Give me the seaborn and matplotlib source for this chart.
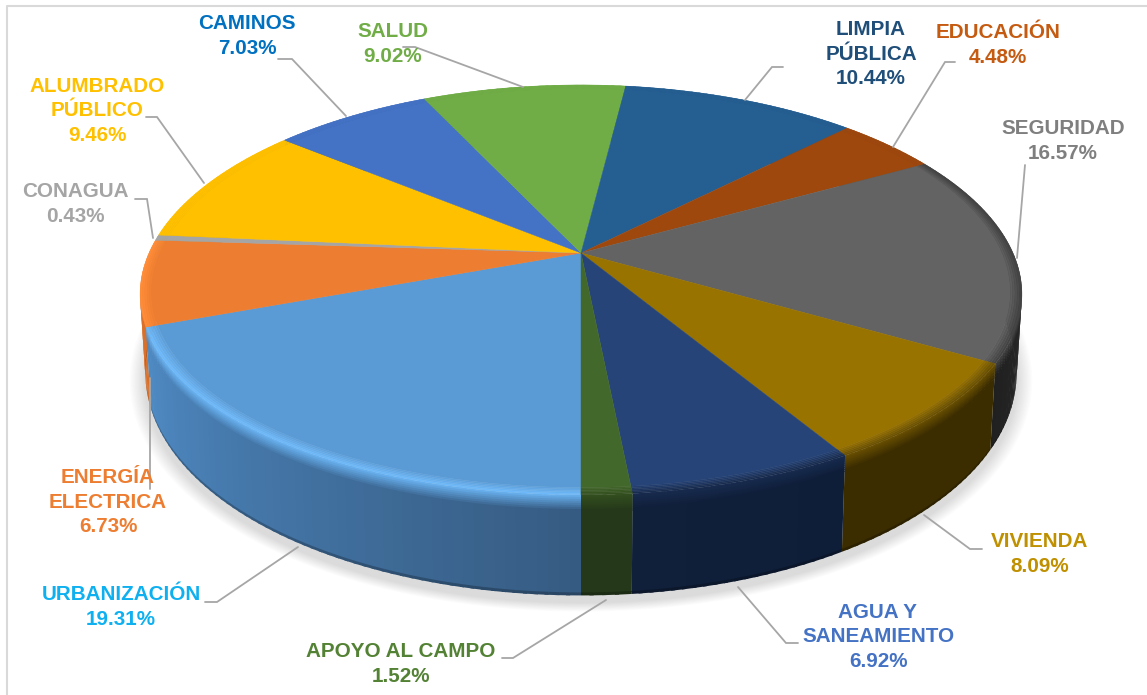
import numpy as np
import matplotlib
matplotlib.use("Agg")
import matplotlib.pyplot as plt
import seaborn as sns
from matplotlib.colors import to_rgb

# slices go clockwise starting from the bottom of the pie
categorias = ["URBANIZACIÓN", "ENERGÍA\nELECTRICA", "CONAGUA", "ALUMBRADO\nPÚBLICO", "CAMINOS", "SALUD",
              "LIMPIA\nPÚBLICA", "EDUCACIÓN", "SEGURIDAD", "VIVIENDA", "AGUA Y\nSANEAMIENTO", "APOYO AL CAMPO"]
valores = [19.31, 6.73, 0.43, 9.46, 7.03, 9.02, 10.44, 4.48, 16.57, 8.09, 6.92, 1.52]

colores = ["#5B9BD5", "#ED7D31", "#A5A5A5", "#FFC000", "#4472C4", "#70AD47",
           "#255E91", "#9E480E", "#636363", "#997300", "#264478", "#43682B"]
colores_texto = ["#0FB0F0", "#ED7D31", "#A5A5A5", "#FFC000", "#0070C0", "#70AD47",
                 "#1F4E79", "#C55A11", "#7F7F7F", "#BF9000", "#4472C4", "#548235"]
# borde (bisel) y pared lateral
bisel = ["#6DB8F8", "#FF8C38", "#A5A5A5", "#FFC000", "#4472C4", "#70AD47",
         "#255E91", "#9E480E", "#444444", "#6A5000", "#182C50", "#34501F"]
pared_ini = ["#4F8BC4", "#D9702A", "#8A8A8A", "#CC9A00", "#36599C", "#598A38",
             "#1D4A73", "#7E390B", "#3A3A3A", "#3C2D00", "#0E1D38", "#25391A"]
pared_fin = ["#365B82", "#D9702A", "#8A8A8A", "#CC9A00", "#36599C", "#598A38",
             "#1D4A73", "#7E390B", "#202020", "#3C2D00", "#101F3A", "#25391A"]

pos_texto = [(121, 607), (108, 502), (75, 204), (97, 111), (247, 36), (393, 44),
             (871, 54), (998, 45), (1063, 141), (1040, 554), (878, 637), (401, 664)]
guias = [[(205, 602), (217, 602), (298, 547)],
         [(150, 378), (150, 489)],
         [(135, 199), (147, 199), (153, 238)],
         [(146, 117), (157, 117), (204, 183)],
         [(278, 59), (292, 59), (346, 116)],
         [(403, 47), (415, 47), (523, 87)],
         [(783, 67), (772, 67), (745, 100)],
         [(955, 62), (945, 62), (893, 147)],
         [(1025, 165), (1017, 258)],
         [(924, 515), (970, 549), (982, 549)],
         [(738, 587), (786, 643), (798, 643)],
         [(502, 658), (513, 658), (606, 600)]]

# perspective of the pie
CX, CY = 581, 253
K_X, K_Y = 0.20, 0.18
AX_X, AX_Y = 432, 198.3
BASE_X = 0.988
BASE_Y0, BASE_YS = 327, 1.11


def proyectar(theta, r=1.0, h=0.0):
    # theta clockwise from the bottom, h=0 top face, h=1 base
    u = -np.sin(theta) * r
    v = -np.cos(theta) * r
    x_top = AX_X * u / (1 + K_X * v)
    y_top = -AX_Y * v / (1 + K_Y * v)
    x = CX + x_top * (1 + (BASE_X - 1) * h)
    y = CY + y_top * (1 + (BASE_YS - 1) * h) + (BASE_Y0 - CY) * h
    return x, y


def mezcla(c1, c2, t):
    a, b = np.array(to_rgb(c1)), np.array(to_rgb(c2))
    return tuple(a + (b - a) * t)


sns.set_theme(style="white")
plt.rcParams['font.family'] = ['Liberation Sans', 'DejaVu Sans']

fig, ax = plt.subplots(figsize=(11.47, 6.95), dpi=100)
fig.subplots_adjust(0, 0, 1, 1)
ax.set_xlim(0, 1147)
ax.set_ylim(695, 0)
ax.axis("off")

# only top and left of the frame are inside the crop
ax.plot([7, 7, 1147], [695, 6, 6], color="#D9D9D9", lw=1.5, zorder=0)

cortes = np.concatenate([[0], np.cumsum(valores)]) / np.sum(valores) * 2 * np.pi

# soft shadow under the base
t_all = np.linspace(0, 2 * np.pi, 240)
for i in range(12):
    sx, sy = proyectar(t_all, 1.0, 1.0)
    esc = 1 + 0.003 * (12 - i)
    ax.fill(CX + (sx - CX) * esc, 340 + (sy - 340) * esc + 7, color="#000000", alpha=0.012, lw=0, zorder=1)

# side wall, back slices first, strips overlap a bit to hide the seams
niveles = np.r_[np.linspace(0, 0.16, 9), 0.97, 1.0]
orden_slices = np.argsort(-np.cos((cortes[:-1] + cortes[1:]) / 2))[::-1]
for i in orden_slices:
    n = max(2, int((cortes[i + 1] - cortes[i]) / 0.02))
    ts = np.linspace(cortes[i], cortes[i + 1], n + 1)
    for j in range(n):
        f = (j + 0.5) / n
        pared = mezcla(pared_ini[i], pared_fin[i], f if i != 0 else 1 - f)
        t_fin = min(ts[j + 1] + 0.008, cortes[i + 1])
        t_arco = np.linspace(ts[j], t_fin, 4)
        for h0, h1 in zip(niveles[:-1], niveles[1:]):
            xa, ya = proyectar(t_arco, 1, h0)
            xb, yb = proyectar(t_arco, 1, min(h1 + 0.01, 1))
            if h1 <= 0.16:
                c = mezcla(bisel[i], pared, h1 / 0.16)
            elif h1 == 1.0:
                c = mezcla(pared, "#000000", 0.25)
            else:
                c = pared
            ax.fill(np.r_[xa, xb[::-1]], np.r_[ya, yb[::-1]], color=c, lw=0, zorder=2)

# top face with a thin bevel towards the rim
R_BISEL = 0.975
for i in range(len(valores)):
    ts = np.linspace(cortes[i], cortes[i + 1], max(3, int((cortes[i + 1] - cortes[i]) / 0.01)))
    x, y = proyectar(ts, R_BISEL)
    ax.fill(np.r_[CX, x], np.r_[CY, y], color=colores[i], lw=0.3, zorder=3)
    radios = np.linspace(R_BISEL, 1, 6)
    for a, b in zip(radios[:-1], radios[1:]):
        xa, ya = proyectar(ts, a)
        xb, yb = proyectar(ts, b)
        ax.fill(np.r_[xa, xb[::-1]], np.r_[ya, yb[::-1]],
                color=mezcla(colores[i], bisel[i], (b - R_BISEL) / (1 - R_BISEL)), lw=0.3, zorder=3)

# leader lines and labels
for g in guias:
    ax.plot([p[0] for p in g], [p[1] for p in g], color="#A6A6A6", lw=1.3, zorder=4,
            solid_joinstyle="miter")

for nombre, valor, c, pos in zip(categorias, valores, colores_texto, pos_texto):
    ax.text(pos[0], pos[1], f"{nombre}\n{valor:.2f}%", color=c, ha="center", va="center",
            fontsize=14.9, fontweight="bold", linespacing=1.36, zorder=5)

fig.savefig("out.png", dpi=100)
